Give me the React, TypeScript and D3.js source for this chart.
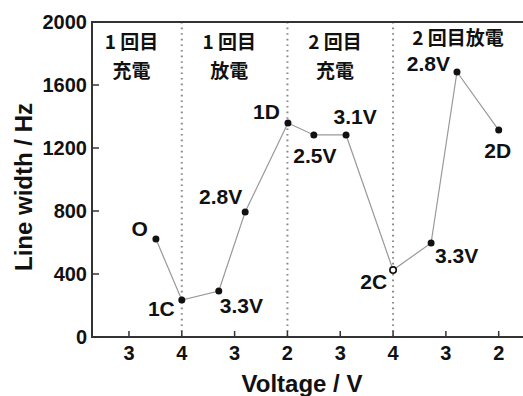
import React from 'react';
import * as d3 from 'd3';

// x positions are tick slots (0..7) along the segmented voltage axis
const tickLabels = ['3', '4', '3', '2', '3', '4', '3', '2'];
const yTicks = [0, 400, 800, 1200, 1600, 2000];
const boundaries = [1, 3, 5];

const pointNames = ['O', '1C', '3.3V', '2.8V', '1D', '2.5V', '3.1V', '2C', '3.3V', '2.8V', '2D'];
const pointSlots = [0.51, 1.0, 1.7, 2.2, 3.01, 3.5, 4.11, 5.0, 5.72, 6.21, 7.0];
const lineWidths = [622, 235, 292, 794, 1359, 1283, 1283, 425, 597, 1683, 1314];
const hollow = ['2C'];

const sectionLines = [['1 回目', '充電'], ['1 回目', '放電'], ['2 回目', '充電'], ['2 回目放電']];
const sectionSlots = [0.05, 1.9, 3.9, 6.23];

// label placement: [anchor, dx, dy]
const labelPlace: [string, number, number][] = [
  ['end', -8, -3],
  ['end', -7, 16],
  ['start', 1, 22],
  ['end', -3, -8],
  ['end', -8, -4],
  ['middle', 1, 28],
  ['middle', 9, -11],
  ['end', -6, 19],
  ['start', 4, 20],
  ['end', -7, -1],
  ['middle', -1, 28],
];

const W = 523;
const H = 396;
const M = { left: 92, top: 22, bottom: 337 };

const latin = 'Arial, "Liberation Sans", Helvetica, sans-serif';
const cjk = '"Noto Sans CJK JP", "Noto Sans CJK SC", sans-serif';

const App = () => {
  const x = d3.scaleLinear().domain([-0.7, 7.46]).range([M.left, W]);
  const y = d3.scaleLinear().domain([0, 2000]).range([M.bottom, M.top]);

  const pts = pointSlots.map((s, i) => ({ s, v: lineWidths[i], name: pointNames[i], i }));
  const line = d3
    .line<{ s: number; v: number }>()
    .x(d => x(d.s))
    .y(d => y(d.v));

  return (
    <svg
      width={W}
      height={H}
      style={{ position: 'absolute', left: 0, top: 0, background: '#fff' }}
    >
      {/* section boundaries */}
      {boundaries.map(b => (
        <line
          key={b}
          x1={x(b)}
          x2={x(b)}
          y1={M.top}
          y2={M.bottom}
          stroke="#888"
          strokeWidth={2}
          strokeDasharray="1.6,4"
        />
      ))}

      {/* frame */}
      <line x1={M.left} x2={W} y1={M.top} y2={M.top} stroke="#333" strokeWidth={2} />
      <line x1={M.left} x2={W} y1={M.bottom} y2={M.bottom} stroke="#333" strokeWidth={2} />
      <line x1={M.left} x2={M.left} y1={M.top - 1} y2={M.bottom + 1} stroke="#333" strokeWidth={2} />

      {/* y axis */}
      {yTicks.map(t => (
        <g key={t}>
          <line x1={M.left} x2={M.left + 7} y1={y(t)} y2={y(t)} stroke="#333" strokeWidth={1.5} />
          <text
            x={M.left - 5}
            y={y(t) + 7}
            textAnchor="end"
            fontFamily={latin}
            fontWeight="bold"
            fontSize={20}
            fill="#111"
          >
            {t}
          </text>
        </g>
      ))}

      {/* x axis */}
      {tickLabels.map((t, i) => (
        <g key={i}>
          <line x1={x(i)} x2={x(i)} y1={M.bottom} y2={M.bottom - 6} stroke="#333" strokeWidth={1.5} />
          <text
            x={x(i)}
            y={M.bottom + 23}
            textAnchor="middle"
            fontFamily={latin}
            fontWeight="bold"
            fontSize={20}
            fill="#111"
          >
            {t}
          </text>
        </g>
      ))}

      <text
        x={302}
        y={392}
        textAnchor="middle"
        fontFamily={latin}
        fontWeight="bold"
        fontSize={24}
        fill="#111"
      >
        Voltage / V
      </text>
      <text
        transform="translate(32,187) rotate(-90)"
        textAnchor="middle"
        fontFamily={latin}
        fontWeight="bold"
        fontSize={24}
        fill="#111"
      >
        Line width / Hz
      </text>

      {/* section titles */}
      {sectionLines.map((lines, i) =>
        lines.map((l, j) => (
          <text
            key={`${i}-${j}`}
            x={x(sectionSlots[i])}
            y={(lines.length === 1 ? 45 : 49) + j * 29}
            textAnchor="middle"
            fontFamily={cjk}
            fontWeight="bold"
            fontSize={19}
            fill="#111"
          >
            {l}
          </text>
        ))
      )}

      {/* data */}
      <path d={line(pts) || ''} fill="none" stroke="#999" strokeWidth={1.2} />
      {pts.map(p => {
        const open = hollow.includes(p.name);
        return (
          <circle
            key={p.i}
            cx={x(p.s)}
            cy={y(p.v)}
            r={open ? 3.2 : 3.5}
            fill={open ? '#fff' : '#111'}
            stroke="#111"
            strokeWidth={open ? 1.6 : 0}
          />
        );
      })}
      {pts.map(p => {
        const [anchor, dx, dy] = labelPlace[p.i];
        return (
          <text
            key={`l${p.i}`}
            x={x(p.s) + dx}
            y={y(p.v) + dy}
            textAnchor={anchor as any}
            fontFamily={latin}
            fontWeight="bold"
            fontSize={21}
            fill="#111"
          >
            {p.name}
          </text>
        );
      })}
    </svg>
  );
};

export default App;
